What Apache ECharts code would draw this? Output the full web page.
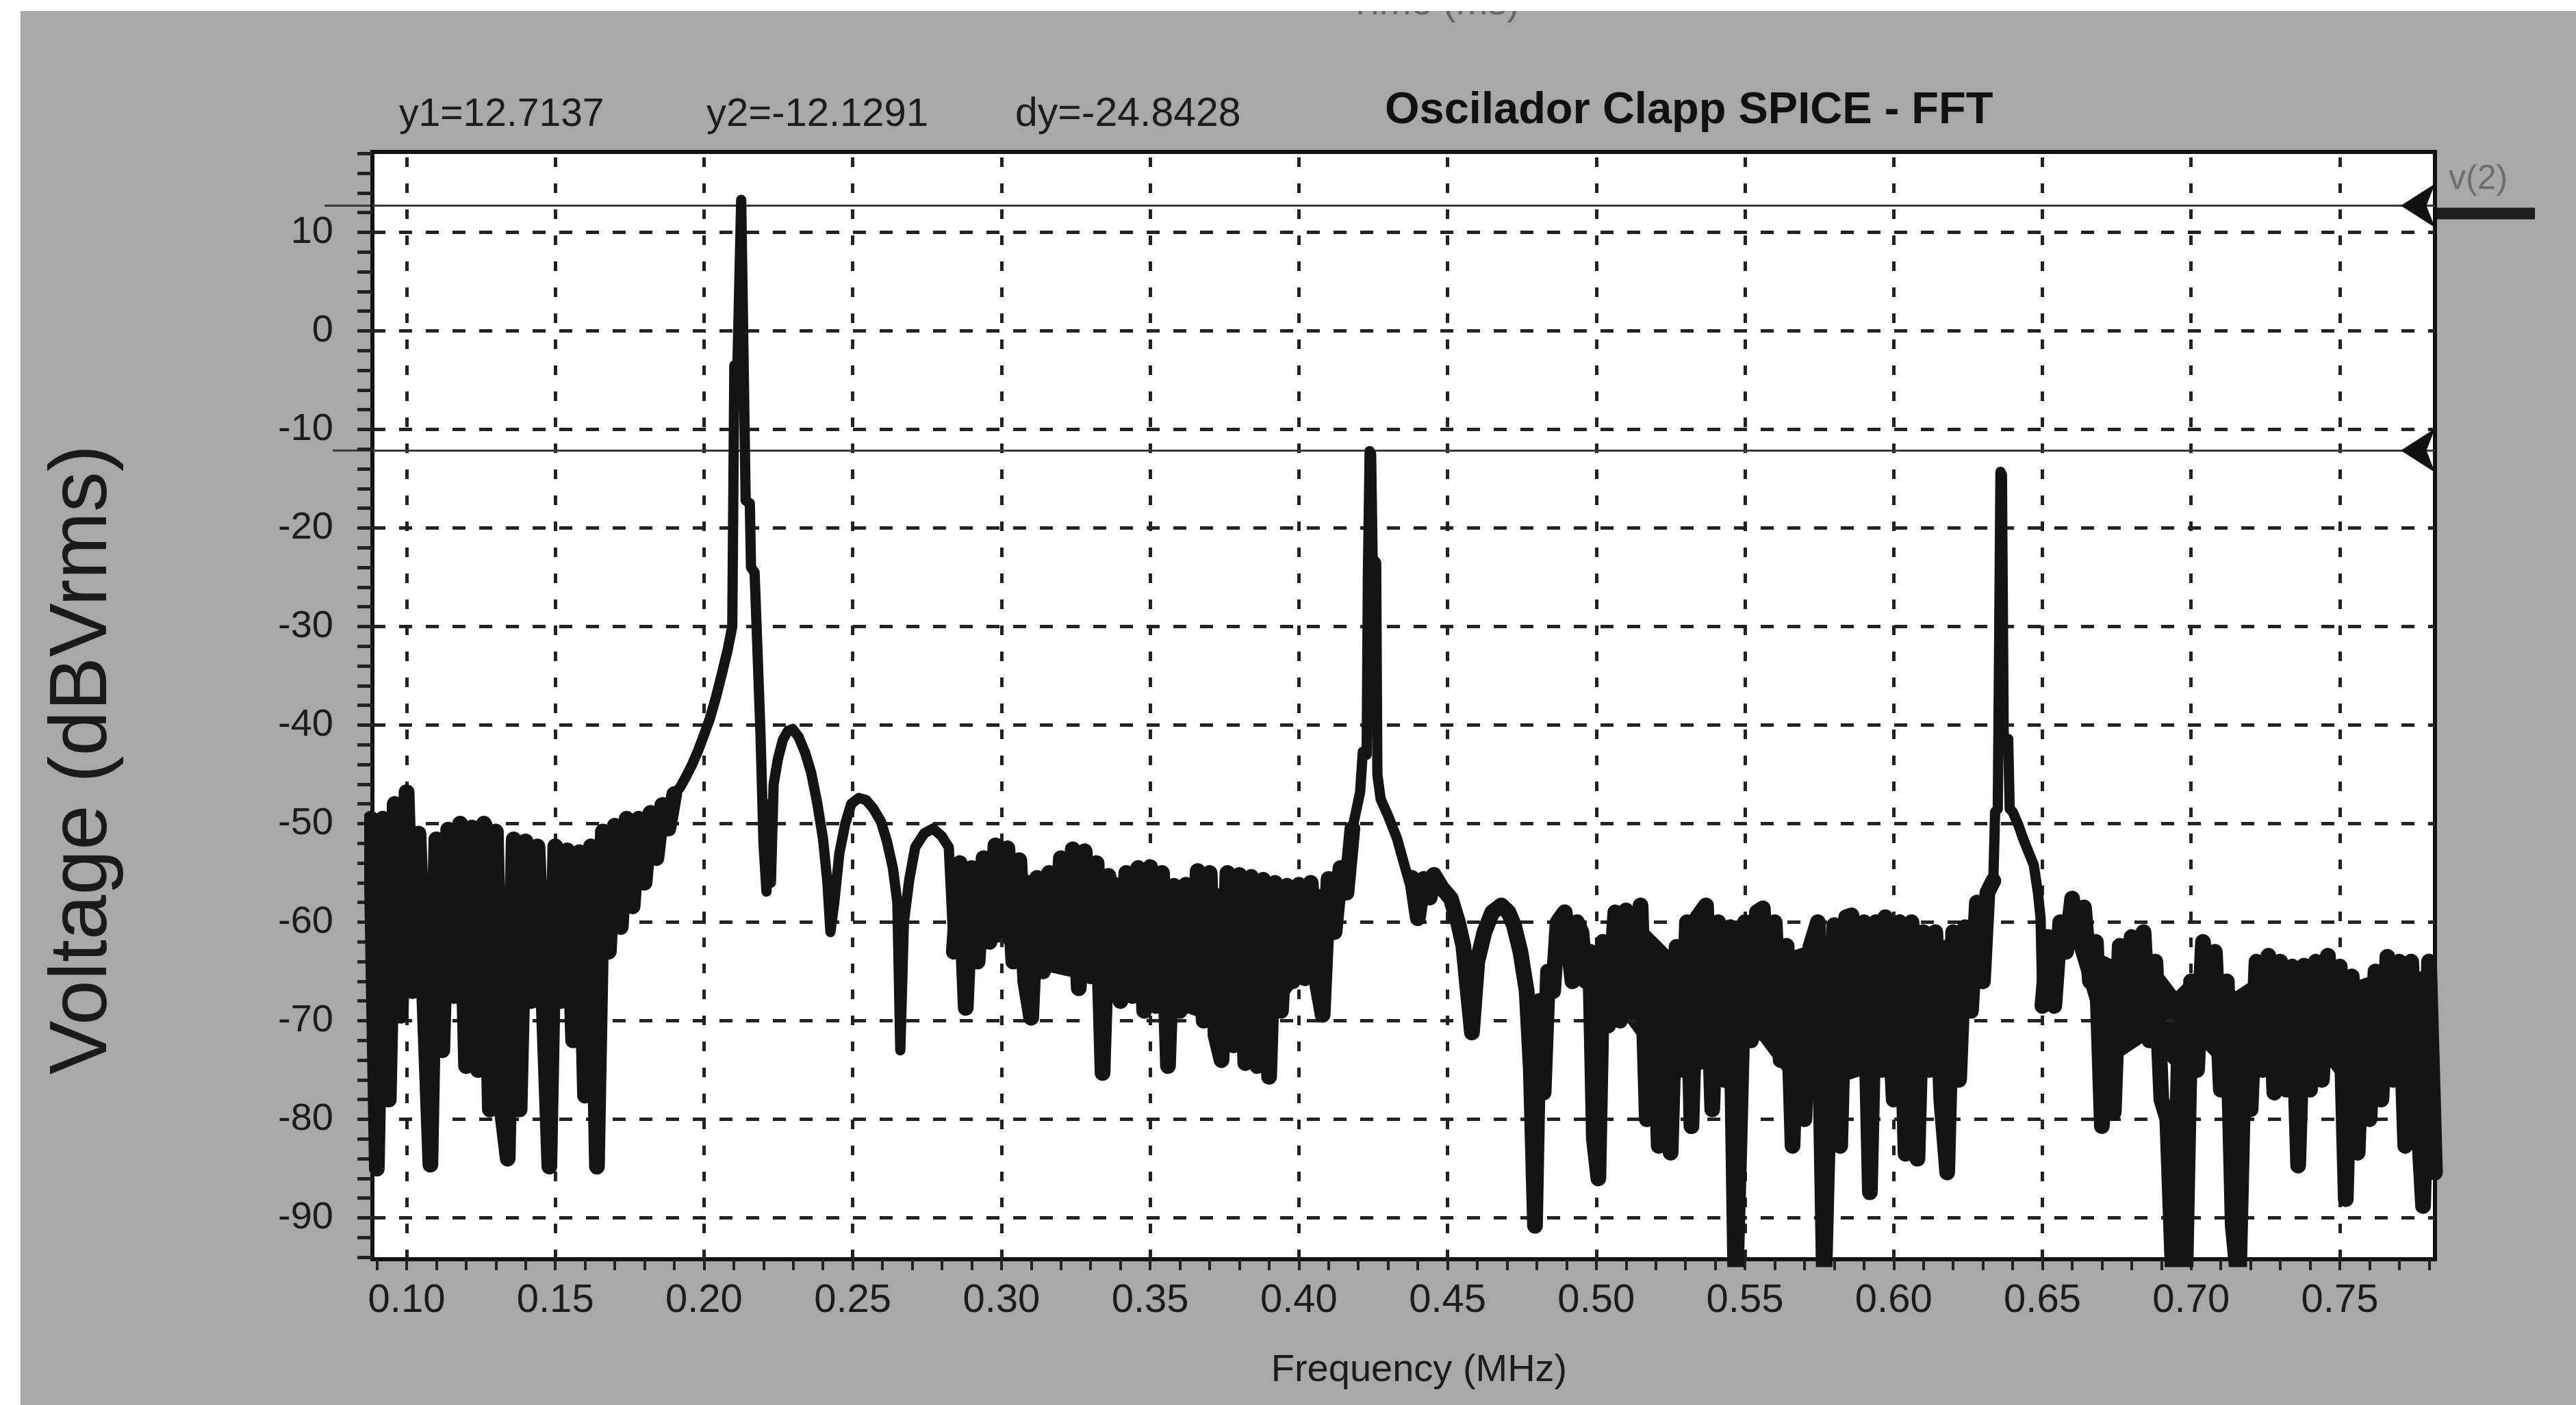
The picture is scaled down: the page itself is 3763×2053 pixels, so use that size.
<!DOCTYPE html>
<html>
<head>
<meta charset="utf-8">
<title>Oscilador Clapp SPICE - FFT</title>
<script src="https://cdn.jsdelivr.net/npm/echarts@6/dist/echarts.min.js"></script>
<style>
html,body{margin:0;padding:0;background:#fff;}
#chart{width:3763px;height:2053px;}
</style>
</head>
<body>
<div id="chart"></div>
<script>
// ejes (MHz / dBVrms)
var xMin = 0.0885, xMax = 0.782;
var yMin = -94.2, yMax = 18.16;
var xTickLabels = [0.10,0.15,0.20,0.25,0.30,0.35,0.40,0.45,0.50,0.55,0.60,0.65,0.70,0.75];
var yTickLabels = [10,0,-10,-20,-30,-40,-50,-60,-70,-80,-90];
var cursorY1 = 12.7137, cursorY2 = -12.1291;

// traza v(2) [MHz, dBVrms]
var noiseLow = [[0.088,-49.5],[0.090,-85],[0.092,-49.5],[0.094,-78],[0.096,-48],[0.098,-69.5],[0.100,-46.8],[0.102,-67],[0.104,-51],[0.106,-68],[0.108,-84.6],[0.110,-51.6],[0.112,-73],[0.114,-50.6],[0.116,-67.5],[0.118,-50],[0.120,-74.6],[0.122,-50.4],[0.124,-75],[0.126,-50],[0.128,-79],[0.130,-50.8],[0.132,-79],[0.134,-84],[0.136,-51.6],[0.138,-79],[0.140,-51.8],[0.142,-68],[0.144,-52.3],[0.146,-67.5],[0.148,-84.8],[0.150,-52.3],[0.152,-68],[0.154,-52.7],[0.156,-72],[0.158,-52.9],[0.160,-77.6],[0.162,-52.3],[0.164,-84.8],[0.166,-50.8],[0.168,-63],[0.170,-50.2],[0.172,-60.5],[0.174,-49.5],[0.176,-58.4],[0.178,-49.5],[0.180,-56],[0.182,-48.9],[0.184,-53.5],[0.186,-48.1],[0.188,-50.5],[0.190,-47]];
var mainPeak = [[0.192,-46.3],[0.194,-45.2],[0.196,-44],[0.198,-42.6],[0.200,-41],[0.202,-39.3],[0.204,-37.2],[0.206,-34.8],[0.208,-32.3],[0.2095,-30],[0.2102,-3.5],[0.2112,-4],[0.2125,13.3],[0.2140,-17.2],[0.2154,-17.5],[0.2158,-24],[0.2170,-24.5],[0.2178,-31],[0.2190,-41],[0.2200,-52],[0.2210,-56.9],[0.2218,-48],[0.2225,-56],[0.2234,-46],[0.2248,-43.5],[0.2265,-41.5],[0.2282,-40.6],[0.2298,-40.4],[0.2318,-41.2],[0.2340,-42.8],[0.2360,-44.8],[0.2380,-47.8],[0.2400,-51.5],[0.2415,-56],[0.2425,-61],[0.2438,-58],[0.2455,-53],[0.2475,-50],[0.2495,-48]];
var sideLobes = [[0.2520,-47.4],[0.2545,-47.6],[0.2570,-48.5],[0.2595,-49.8],[0.2615,-51.8],[0.2635,-54.5],[0.2650,-58],[0.2660,-73],[0.2672,-60],[0.2690,-55.7],[0.2710,-52.4],[0.2740,-51],[0.2770,-50.5],[0.2800,-51.3],[0.2823,-52.4]];
var midBand = [[0.284,-63],[0.286,-54],[0.288,-68.7],[0.290,-54.5],[0.292,-64],[0.294,-53.5],[0.296,-62],[0.298,-52.2],[0.300,-60],[0.302,-52.5],[0.304,-64],[0.306,-53.7],[0.308,-66],[0.310,-69.7],[0.312,-55.5],[0.314,-65],[0.316,-55],[0.318,-64],[0.320,-53.5],[0.322,-62.5],[0.324,-52.6],[0.326,-66.7],[0.328,-52.8],[0.330,-65.5],[0.332,-54],[0.334,-75.3],[0.336,-55.3],[0.338,-66],[0.340,-68],[0.342,-55],[0.344,-67.5],[0.346,-54.5],[0.348,-69],[0.350,-54.4],[0.352,-68.5],[0.354,-55],[0.356,-74.6],[0.358,-56.3],[0.360,-69],[0.362,-56.2],[0.364,-68],[0.366,-54.8],[0.368,-70],[0.370,-55],[0.372,-71.5],[0.374,-74],[0.376,-55],[0.378,-72.5],[0.380,-55.2],[0.382,-74.3],[0.384,-55.4],[0.386,-74.6],[0.388,-55.7],[0.390,-75.7],[0.392,-56],[0.394,-69],[0.396,-56.3],[0.398,-66],[0.400,-56.2],[0.402,-65.7],[0.404,-56],[0.406,-66],[0.408,-69.4],[0.410,-55.6],[0.412,-61],[0.414,-54.5],[0.416,-57],[0.418,-50.5]];
var secondPeak = [[0.4206,-46.8],[0.4215,-42.7],[0.4228,-43],[0.4232,-25],[0.4238,-12.2],[0.4243,-12.5],[0.4248,-23.1],[0.4260,-23.5],[0.4264,-45],[0.4275,-47.5],[0.4300,-49.2],[0.4330,-51.5],[0.4355,-54.2],[0.4372,-56]];
var highBand = [[0.438,-55.5],[0.440,-59.6],[0.442,-55.6],[0.444,-57.5],[0.4454,-55.2],[0.448,-56.5],[0.4511,-57.6],[0.4535,-60],[0.4553,-62.4],[0.4568,-67],[0.4582,-71.2],[0.4600,-64],[0.4624,-61],[0.4650,-59],[0.4681,-58.3],[0.4705,-59],[0.4723,-60.3],[0.4745,-63],[0.4766,-67],[0.4780,-75],[0.4794,-90.8],[0.4808,-68],[0.4823,-77.3],[0.4838,-65],[0.4855,-67],[0.4870,-60],[0.4894,-59],[0.4920,-66],[0.4935,-60],[0.4950,-61],[0.4965,-66],[0.4979,-63],[0.4992,-82],[0.5007,-86],[0.5022,-62],[0.504,-70.5],[0.5064,-59],[0.508,-70],[0.510,-58.8],[0.512,-69],[0.5149,-58.3],[0.517,-80],[0.519,-62.4],[0.521,-82.7],[0.523,-63.7],[0.525,-83.4],[0.527,-62.5],[0.529,-75],[0.5305,-60],[0.532,-80.7],[0.534,-59.5],[0.5369,-58.3],[0.539,-79],[0.541,-60],[0.543,-76],[0.545,-60.5],[0.5468,-97],[0.548,-84],[0.550,-60],[0.552,-72],[0.554,-59],[0.556,-58.6],[0.558,-70],[0.560,-60],[0.562,-74],[0.564,-62.4],[0.566,-82.7],[0.568,-63.7],[0.570,-80],[0.572,-62.5],[0.5745,-60],[0.5766,-97],[0.578,-80],[0.580,-60.3],[0.582,-82.7],[0.584,-59.5],[0.5858,-59.3],[0.588,-72],[0.590,-60],[0.592,-87.4],[0.594,-60],[0.596,-75],[0.5972,-59.5],[0.600,-78],[0.602,-60],[0.604,-83.5],[0.606,-60],[0.608,-84],[0.610,-61],[0.612,-75],[0.614,-61],[0.616,-78],[0.618,-85.4],[0.620,-61],[0.622,-76],[0.624,-60.5],[0.626,-69],[0.628,-58],[0.630,-66],[0.6315,-57],[0.6335,-55.8]];
var thirdPeak = [[0.6341,-48.8],[0.6350,-48.5],[0.6355,-30],[0.6359,-14.3],[0.6364,-14.6],[0.6370,-41.4],[0.6385,-41.4],[0.6390,-48.5],[0.6400,-48.8],[0.6420,-50.2],[0.6435,-51.5],[0.6455,-53],[0.6471,-54.2],[0.6485,-57],[0.6494,-59.6]];
var tailBand = [[0.650,-68.5],[0.652,-61.5],[0.654,-68.5],[0.656,-60],[0.658,-63],[0.660,-57.6],[0.662,-62],[0.664,-58.5],[0.666,-66],[0.668,-62],[0.670,-80.7],[0.672,-68],[0.674,-79.3],[0.676,-62.4],[0.678,-70],[0.680,-61.5],[0.682,-70],[0.684,-61],[0.686,-72],[0.688,-64],[0.690,-78],[0.692,-80],[0.694,-97],[0.696,-72],[0.698,-97],[0.700,-66],[0.702,-75],[0.704,-62],[0.706,-72],[0.708,-63],[0.710,-77],[0.712,-66],[0.714,-90.8],[0.716,-97],[0.718,-70.5],[0.720,-79],[0.722,-64],[0.724,-75],[0.726,-63.4],[0.728,-77.3],[0.730,-64],[0.732,-77],[0.734,-64.5],[0.736,-84.7],[0.738,-64.4],[0.740,-77],[0.742,-64],[0.744,-76],[0.746,-63.4],[0.748,-74],[0.750,-64.5],[0.752,-88.1],[0.754,-65.5],[0.756,-83.4],[0.758,-67],[0.760,-80],[0.762,-65],[0.764,-78],[0.766,-63.5],[0.768,-76],[0.770,-64],[0.772,-82.7],[0.774,-64],[0.776,-78],[0.778,-88.8],[0.780,-64],[0.782,-85.4]];

// zona maciza del ruido: [MHz, borde superior, borde inferior]
var solidMid = [[0.285,-55,-63],[0.300,-54,-62],[0.315,-56,-65],[0.330,-55,-66],[0.350,-56,-68],[0.370,-56.5,-70],[0.390,-57,-70],[0.400,-57,-66],[0.410,-56.5,-61],[0.416,-55,-57]];
var solidHigh = [[0.500,-63,-67],[0.510,-60,-70],[0.515,-60,-72],[0.525,-63,-76],[0.535,-61,-75],[0.545,-62,-74],[0.555,-60,-72],[0.565,-63,-76],[0.575,-62,-77],[0.585,-61,-76],[0.595,-61,-75],[0.605,-61,-76],[0.615,-62,-74],[0.625,-61,-68],[0.630,-59,-63]];
var solidTail = [[0.651,-63,-67],[0.660,-59.5,-62],[0.668,-63,-70],[0.675,-64,-74],[0.685,-63,-72],[0.695,-67,-75],[0.705,-64,-73],[0.715,-67,-76],[0.725,-65,-75],[0.735,-65.5,-76],[0.745,-65,-74],[0.755,-66,-78],[0.765,-65,-76],[0.775,-65,-78],[0.782,-65,-78]];

var trace = [].concat(noiseLow, mainPeak, sideLobes, midBand, secondPeak, highBand, thirdPeak, tailBand);
var noisyParts = [noiseLow, midBand, highBand, tailBand];
var solidParts = [solidMid, solidHigh, solidTail];

// marcas menores: cada 0.01 MHz y cada 2 dB
var xMinorTicks = [], yMinorTicks = [];
for (var i = 9; i <= 78; i++) xMinorTicks.push(i / 100);
for (var j = -94; j <= 18; j += 2) yMinorTicks.push(j);

var gridLines = [];
xTickLabels.forEach(function (v) {
	gridLines.push({xAxis: v, lineStyle: {type: [14, 24], width: 5, color: '#222'}});
});
yTickLabels.forEach(function (v) {
	gridLines.push({yAxis: v, lineStyle: {type: [19, 20], width: 5, color: '#222'}});
});

var FONT = '"Liberation Sans", Arial, sans-serif';
var INK = '#141414';

var series = [
	{
		name: 'grid', type: 'line', data: [], z: 1, silent: true,
		markLine: {silent: true, animation: false, symbol: ['none', 'none'], label: {show: false}, data: gridLines}
	},
	{
		name: 'cursores', type: 'line', data: [], z: 2, silent: true,
		markLine: {silent: true, animation: false, symbol: ['none', 'none'], label: {show: false},
			lineStyle: {type: 'solid', color: '#3a3a3a', width: 3},
			data: [{yAxis: cursorY1}, {yAxis: cursorY2}]}
	},
	{
		name: 'v(2)', type: 'line', data: trace, z: 5,
		showSymbol: false, symbol: 'none', clip: true,
		lineStyle: {color: INK, width: 15, join: 'round', cap: 'round'}
	},
	{
		name: 'marcas', type: 'line', data: [], z: 6, silent: true,
		markPoint: {silent: true, animation: false,
			symbol: 'path://M0,10 L20,0 L15,10 L20,20 Z', symbolSize: [50, 64], symbolOffset: ['-50%', 0],
			itemStyle: {color: '#111'}, label: {show: false},
			data: [{coord: [xMax, cursorY1]}, {coord: [xMax, cursorY2]}]}
	}
];
// el ruido es denso: se vuelve a trazar mas grueso para que quede como banda negra
noisyParts.forEach(function (part) {
	series.push({
		type: 'line', data: part, z: 5, silent: true,
		showSymbol: false, symbol: 'none', clip: true,
		lineStyle: {color: INK, width: 23, join: 'round', cap: 'round'}
	});
});
// relleno de la parte maciza de la banda
solidParts.forEach(function (band) {
	series.push({
		type: 'custom', z: 4, silent: true, clip: true,
		data: [[band[0][0], band[0][1]]],
		renderItem: function (params, api) {
			var pts = [];
			band.forEach(function (b) { pts.push(api.coord([b[0], b[1]])); });
			for (var k = band.length - 1; k >= 0; k--) pts.push(api.coord([band[k][0], band[k][2]]));
			return {type: 'polygon', shape: {points: pts}, style: {fill: INK}};
		}
	});
});

var option = {
	backgroundColor: '#a8a8a8',
	animation: false,
	grid: {left: 544, right: 206, top: 222, bottom: 213, show: true, backgroundColor: '#fff',
		borderColor: '#111', borderWidth: 6, outerBoundsMode: 'none', containLabel: false},
	xAxis: {
		type: 'value', min: xMin, max: xMax,
		axisLine: {show: true, onZero: false, lineStyle: {color: '#111', width: 6}},
		axisTick: {show: true, inside: false, length: 16, customValues: xMinorTicks, lineStyle: {color: '#222', width: 4}},
		axisLabel: {customValues: xTickLabels, formatter: function (v) { return v.toFixed(2); },
			fontFamily: FONT, fontSize: 58, color: '#1c1c1c', margin: 32},
		splitLine: {show: false}
	},
	yAxis: {
		type: 'value', min: yMin, max: yMax,
		axisLine: {show: true, onZero: false, lineStyle: {color: '#111', width: 6}},
		axisTick: {show: true, inside: false, length: 22, customValues: yMinorTicks, lineStyle: {color: '#222', width: 5}},
		axisLabel: {customValues: yTickLabels, formatter: function (v) { return String(v); },
			fontFamily: FONT, fontSize: 56, color: '#1c1c1c', margin: 57},
		splitLine: {show: false}
	},
	graphic: {elements: [
		{id: 'bordeIzq', type: 'rect', shape: {x: 0, y: 0, width: 30, height: 2053}, style: {fill: '#fff'}},
		{id: 'tiempo', type: 'text', x: 2095, y: 6, style: {text: 'Time (ms)', font: '56px ' + FONT, fill: '#666', align: 'center', verticalAlign: 'middle'}},
		{id: 'bordeSup', type: 'rect', shape: {x: 0, y: 0, width: 3763, height: 16}, style: {fill: '#fff'}},
		{id: 'y1txt', type: 'text', x: 583, y: 168, style: {text: 'y1=12.7137', font: '57px ' + FONT, fill: '#1c1c1c', verticalAlign: 'middle'}},
		{id: 'y2txt', type: 'text', x: 1032, y: 168, style: {text: 'y2=-12.1291', font: '58px ' + FONT, fill: '#1c1c1c', verticalAlign: 'middle'}},
		{id: 'dytxt', type: 'text', x: 1483, y: 168, style: {text: 'dy=-24.8428', font: '59px ' + FONT, fill: '#1c1c1c', verticalAlign: 'middle'}},
		{id: 'titulo', type: 'text', x: 2023, y: 162, style: {text: 'Oscilador Clapp SPICE - FFT', font: 'bold 65px ' + FONT, fill: '#111', verticalAlign: 'middle'}},
		{id: 'xname', type: 'text', x: 2073, y: 2003, style: {text: 'Frequency (MHz)', font: '56px ' + FONT, fill: '#1c1c1c', align: 'center', verticalAlign: 'middle'}},
		{id: 'yname', type: 'text', x: 122, y: 1110, rotation: Math.PI / 2, style: {text: 'Voltage (dBVrms)', font: '118px ' + FONT, fill: '#1a1a1a', align: 'center', verticalAlign: 'middle'}}
	]},
	series: series
};

var chart = echarts.init(document.getElementById('chart'), null, {renderer: 'canvas'});
chart.setOption(option);

// prolongacion de los cursores y etiqueta de la traza
var pA = chart.convertToPixel({xAxisIndex: 0, yAxisIndex: 0}, [xMin, cursorY1]);
var pB = chart.convertToPixel({xAxisIndex: 0, yAxisIndex: 0}, [xMin, cursorY2]);
var pR = chart.convertToPixel({xAxisIndex: 0, yAxisIndex: 0}, [xMax, cursorY1]);
chart.setOption({graphic: {elements: [
	{id: 'ext1', type: 'line', shape: {x1: pA[0] - 70, y1: pA[1], x2: pA[0], y2: pA[1]}, style: {stroke: '#3a3a3a', lineWidth: 3}},
	{id: 'ext2', type: 'line', shape: {x1: pB[0] - 58, y1: pB[1], x2: pB[0], y2: pB[1]}, style: {stroke: '#3a3a3a', lineWidth: 3}},
	{id: 'v2line', type: 'rect', shape: {x: pR[0] + 3, y: pR[1] + 3, width: 143, height: 17}, style: {fill: '#1e1e1e'}},
	{id: 'v2txt', type: 'text', x: pR[0] + 20, y: pR[1] - 38, style: {text: 'v(2)', font: '50px ' + FONT, fill: '#6e6e6e', verticalAlign: 'middle'}}
]}});

window.addEventListener('resize', function () {
	chart.resize();
});
</script>
</body>
</html>
